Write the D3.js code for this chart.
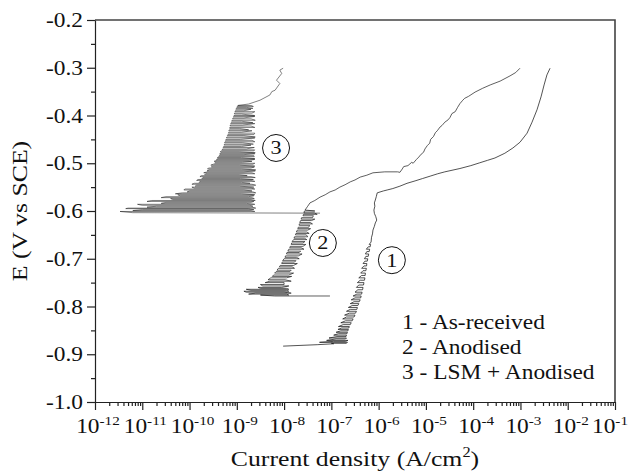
<!DOCTYPE html>
<html><head><meta charset="utf-8">
<script src="https://cdn.jsdelivr.net/npm/d3@7"></script>
<style>body{margin:0;background:#fff} svg{display:block}</style>
</head><body><svg id="c" width="629" height="474"></svg>
<script>
// ---------- data ----------
const xTickExps = [-12,-11,-10,-9,-8,-7,-6,-5,-4,-3,-2,-1];
const yTicks = [-0.2,-0.3,-0.4,-0.5,-0.6,-0.7,-0.8,-0.9,-1.0];
const yTickLabels = ["-0.2","-0.3","-0.4","-0.5","-0.6","-0.7","-0.8","-0.9","-1.0"];
const legendLines = ["1 - As-received","2 - Anodised","3 - LSM + Anodised"];
const markers = [["3",-8.17,-0.468],["2",-7.18,-0.667],["1",-5.72,-0.703]];

// curve 1 (As-received): [logI, E]
const c1Start = [[-8.02,-0.883],[-7.3,-0.880],[-6.95,-0.878]];
// noisy rows [E, logI low, logI high]
const c1Rows = [
[-0.877,-7.0,-6.68],[-0.875,-7.25,-6.66],[-0.873,-6.95,-6.70],[-0.871,-7.1,-6.65],
[-0.868,-6.9,-6.70],[-0.866,-7.05,-6.68],[-0.863,-6.88,-6.69],[-0.860,-6.95,-6.68],
[-0.857,-6.85,-6.67],[-0.854,-6.9,-6.66],[-0.851,-6.8,-6.65],[-0.848,-6.86,-6.64],
[-0.845,-6.78,-6.63],[-0.842,-6.85,-6.62],[-0.838,-6.75,-6.60],
[-0.834,-6.8,-6.58],[-0.830,-6.7,-6.56],[-0.826,-6.76,-6.54],[-0.822,-6.68,-6.52],
[-0.818,-6.72,-6.50],[-0.814,-6.62,-6.49],[-0.810,-6.68,-6.47],[-0.806,-6.6,-6.46],
[-0.802,-6.64,-6.45],[-0.798,-6.56,-6.44],[-0.794,-6.6,-6.42],[-0.790,-6.52,-6.41],
[-0.786,-6.58,-6.39],[-0.782,-6.5,-6.38],[-0.778,-6.54,-6.37],[-0.774,-6.46,-6.36],
[-0.770,-6.5,-6.35],[-0.765,-6.44,-6.34],[-0.760,-6.47,-6.33],[-0.755,-6.42,-6.32],
[-0.750,-6.45,-6.31],[-0.745,-6.39,-6.30],[-0.740,-6.42,-6.29],[-0.735,-6.36,-6.285],
[-0.730,-6.38,-6.28],[-0.725,-6.33,-6.27],[-0.720,-6.36,-6.26],[-0.715,-6.31,-6.255],
[-0.710,-6.33,-6.25],[-0.705,-6.29,-6.24],[-0.700,-6.3,-6.23],[-0.695,-6.27,-6.22],
[-0.690,-6.28,-6.21],[-0.685,-6.25,-6.20],[-0.680,-6.26,-6.19],[-0.675,-6.22,-6.18],
[-0.670,-6.2,-6.17]
];
const c1Top = [[-6.16,-0.665],[-6.15,-0.655],[-6.13,-0.648],[-6.12,-0.640],[-6.09,-0.632],
[-6.07,-0.625],[-6.04,-0.619],[-6.06,-0.612],[-6.09,-0.605],[-6.10,-0.598],[-6.08,-0.590],
[-6.09,-0.583],[-6.07,-0.577],[-6.05,-0.570],[-6.03,-0.562],[-5.90,-0.558],[-5.82,-0.556],
[-5.70,-0.553],[-5.55,-0.548],[-5.40,-0.542],[-5.23,-0.537],[-5.07,-0.532],[-4.91,-0.527],
[-4.75,-0.522],[-4.60,-0.518],[-4.28,-0.511],[-4.05,-0.505],[-3.86,-0.499],[-3.70,-0.494],
[-3.54,-0.489],[-3.33,-0.479],[-3.16,-0.468],[-3.01,-0.456],[-2.86,-0.437],[-2.755,-0.414],
[-2.65,-0.388],[-2.565,-0.361],[-2.50,-0.336],[-2.44,-0.315],[-2.374,-0.301]];

// curve 2 (Anodised)
const c2Start = [[-7.03,-0.778],[-8.2,-0.778]];
const c2Rows = [
[-0.776,-8.5,-7.9],[-0.774,-8.75,-7.95],[-0.772,-8.6,-7.85],[-0.770,-8.8,-8.0],
[-0.768,-8.85,-7.9],[-0.766,-8.7,-7.95],[-0.764,-8.8,-7.9],[-0.762,-8.5,-7.95],
[-0.760,-8.55,-8.05],[-0.757,-8.45,-7.9],[-0.754,-8.5,-8.0],
[-0.750,-8.4,-8.0],[-0.747,-8.3,-7.85],[-0.744,-8.34,-7.98],[-0.740,-8.28,-7.95],[-0.737,-8.25,-7.84],[-0.734,-8.22,-7.9],
[-0.730,-8.2,-7.8],[-0.727,-8.17,-7.88],[-0.724,-8.15,-7.85],[-0.720,-8.12,-7.78],[-0.717,-8.1,-7.83],[-0.714,-8.08,-7.8],
[-0.710,-8.05,-7.72],[-0.707,-8.04,-7.78],[-0.704,-8.03,-7.75],[-0.700,-8.0,-7.68],[-0.697,-7.98,-7.74],[-0.694,-7.97,-7.7],
[-0.690,-7.95,-7.62],[-0.687,-7.94,-7.68],[-0.684,-7.92,-7.65],[-0.680,-7.9,-7.58],[-0.677,-7.88,-7.64],[-0.674,-7.87,-7.6],
[-0.670,-7.85,-7.54],[-0.667,-7.84,-7.6],[-0.664,-7.83,-7.56],[-0.660,-7.8,-7.52],[-0.657,-7.79,-7.57],[-0.654,-7.78,-7.5],
[-0.650,-7.76,-7.53],[-0.647,-7.75,-7.47],[-0.644,-7.74,-7.52],[-0.640,-7.72,-7.5],[-0.637,-7.71,-7.44],[-0.634,-7.7,-7.48],
[-0.630,-7.68,-7.46],[-0.627,-7.68,-7.4],[-0.624,-7.67,-7.45],[-0.620,-7.65,-7.42],[-0.617,-7.64,-7.35],[-0.614,-7.63,-7.4],
[-0.610,-7.6,-7.38],[-0.607,-7.59,-7.3],[-0.604,-7.58,-7.36],[-0.600,-7.57,-7.35]
];
const c2Top = [[-7.557,-0.598],[-7.50,-0.590],[-7.452,-0.583],[-7.35,-0.578],[-7.24,-0.571],
[-7.13,-0.566],[-7.03,-0.560],[-6.92,-0.556],[-6.82,-0.550],[-6.71,-0.545],[-6.60,-0.539],
[-6.50,-0.535],[-6.39,-0.529],[-6.25,-0.525],[-6.12,-0.520],[-5.87,-0.518],[-5.60,-0.518],
[-5.55,-0.519],[-5.50,-0.512],[-5.47,-0.507],[-5.38,-0.505],[-5.30,-0.498],[-5.27,-0.500],
[-5.20,-0.492],[-5.15,-0.487],[-5.10,-0.481],[-5.05,-0.477],[-5.02,-0.470],[-4.97,-0.463],
[-4.92,-0.458],[-4.90,-0.450],[-4.84,-0.444],[-4.80,-0.436],[-4.76,-0.432],[-4.70,-0.424],
[-4.66,-0.421],[-4.60,-0.414],[-4.53,-0.409],[-4.49,-0.404],[-4.45,-0.396],[-4.38,-0.392],
[-4.33,-0.383],[-4.28,-0.375],[-4.22,-0.368],[-4.18,-0.364],[-4.10,-0.360],[-3.96,-0.351],
[-3.80,-0.343],[-3.64,-0.336],[-3.43,-0.328],[-3.22,-0.317],[-3.10,-0.310],[-3.01,-0.301]];

// curve 3 (LSM + Anodised)
const c3Start = [[-7.24,-0.6045],[-11.2,-0.6035]];
const c3Rows = [
[-0.601,-11.47,-8.62],[-0.599,-11.2,-8.70],[-0.597,-11.0,-8.64],[-0.595,-11.35,-8.75],[-0.594,-11.3,-8.60],[-0.592,-10.9,-8.68],
[-0.590,-10.7,-8.66],[-0.588,-11.0,-8.72],[-0.586,-11.1,-8.62],[-0.584,-10.6,-8.8],[-0.582,-10.5,-8.70],[-0.580,-10.9,-8.64],
[-0.578,-10.8,-8.61],[-0.576,-10.35,-8.7],[-0.574,-10.4,-8.63],[-0.572,-10.6,-8.68],
[-0.570,-10.5,-8.75],[-0.568,-10.2,-8.64],[-0.566,-10.25,-8.62],[-0.564,-10.3,-8.9],[-0.562,-10.15,-8.60],[-0.560,-10.05,-8.66],
[-0.558,-10.0,-8.68],[-0.556,-10.12,-8.85],[-0.554,-10.1,-8.62],[-0.552,-9.9,-8.7],
[-0.550,-9.95,-8.64],[-0.548,-9.88,-8.95],[-0.546,-9.85,-8.60],[-0.544,-9.95,-8.68],[-0.542,-9.9,-8.72],[-0.540,-9.8,-8.9],
[-0.538,-9.78,-8.62],[-0.536,-9.85,-8.7],[-0.534,-9.82,-8.65],[-0.532,-9.74,-8.92],[-0.530,-9.72,-8.61],[-0.528,-9.78,-8.7],
[-0.526,-9.75,-8.78],[-0.524,-9.68,-8.95],
[-0.522,-9.66,-8.62],[-0.520,-9.7,-8.68],[-0.518,-9.62,-8.85],[-0.516,-9.63,-8.61],[-0.514,-9.58,-8.60],[-0.512,-9.62,-8.9],
[-0.510,-9.6,-8.70],[-0.508,-9.54,-8.63],
[-0.506,-9.52,-8.62],[-0.504,-9.55,-8.95],[-0.502,-9.5,-8.66],[-0.500,-9.47,-8.62],[-0.498,-9.45,-8.88],[-0.496,-9.48,-8.68],
[-0.494,-9.42,-8.74],[-0.492,-9.43,-8.62],
[-0.490,-9.4,-8.62],[-0.488,-9.41,-8.9],[-0.486,-9.38,-8.63],[-0.484,-9.37,-8.64],[-0.482,-9.36,-8.85],[-0.480,-9.36,-8.62],
[-0.478,-9.34,-8.61],[-0.476,-9.35,-8.95],
[-0.474,-9.33,-8.64],[-0.472,-9.31,-8.62],[-0.470,-9.3,-8.80],[-0.467,-9.29,-8.63],[-0.465,-9.28,-8.9],[-0.462,-9.27,-8.7],
[-0.460,-9.26,-8.65],[-0.457,-9.26,-8.88],[-0.455,-9.25,-8.62],[-0.452,-9.24,-8.68],[-0.450,-9.23,-8.92],[-0.447,-9.22,-8.62],
[-0.445,-9.21,-8.61],[-0.442,-9.2,-8.85],[-0.440,-9.19,-8.64],[-0.437,-9.18,-8.62],[-0.435,-9.17,-8.9],[-0.432,-9.17,-8.68],
[-0.430,-9.16,-8.75],[-0.427,-9.15,-8.95],[-0.425,-9.15,-8.62],[-0.422,-9.14,-8.7],[-0.420,-9.14,-8.88],[-0.417,-9.13,-8.62],
[-0.415,-9.12,-8.66],[-0.412,-9.11,-8.9],[-0.410,-9.1,-8.61],[-0.407,-9.09,-8.7],[-0.405,-9.08,-8.85],[-0.402,-9.07,-8.62],
[-0.400,-9.06,-8.62],[-0.397,-9.05,-8.9],[-0.395,-9.05,-8.68],[-0.392,-9.04,-8.62],[-0.390,-9.03,-8.85],[-0.387,-9.02,-8.7],
[-0.385,-9.01,-8.66],[-0.383,-9.0,-8.8],[-0.381,-8.99,-8.65],[-0.379,-8.98,-8.7]
];
const c3Top = [[-8.75,-0.376],[-8.51,-0.368],[-8.30,-0.357],[-8.26,-0.350],[-8.19,-0.347],
[-8.09,-0.333],[-8.16,-0.326],[-8.05,-0.312],[-8.09,-0.305],[-8.02,-0.301]];

// ---------- drawing ----------
const FONT = "'Liberation Serif','Times New Roman',serif";
const SX = 1.17;
const svg = d3.select("#c");
const x = d3.scaleLog().domain([1e-12, 1e-1]).range([95, 615]);
const y = d3.scaleLinear().domain([-1.0, -0.2]).range([402, 20]);

function expandRows(rows){
  const pts = [];
  rows.forEach((r,i) => {
    if (i % 2 === 0) { pts.push([r[1], r[0]]); pts.push([r[2], r[0]]); }
    else { pts.push([r[2], r[0]]); pts.push([r[1], r[0]]); }
  });
  return pts;
}
const curves = [
  {pts: c1Start.concat(expandRows(c1Rows), c1Top), w: 0.75},
  {pts: c2Start.concat(expandRows(c2Rows), c2Top), w: 0.7},
  {pts: c3Start.concat(expandRows(c3Rows), c3Top), w: 0.55}
];
const line = d3.line().x(d => x(Math.pow(10, d[0]))).y(d => y(d[1]));
svg.append("g").selectAll("path").data(curves).join("path")
  .attr("d", d => line(d.pts)).attr("fill","none").attr("stroke","#1a1a1a")
  .attr("stroke-width", d => d.w).attr("stroke-linejoin","miter");

// frame top/right
svg.append("path").attr("d", `M95,20H615V402`).attr("fill","none")
  .attr("stroke","#444").attr("stroke-width",1.6);

// y axis
const yMinor = yTicks.slice(0,-1).map(v => v - 0.05);
svg.append("g").attr("transform","translate(95,0)")
  .call(d3.axisLeft(y).tickValues(yMinor).tickSize(4).tickSizeOuter(0).tickFormat(""))
  .call(g => g.select(".domain").remove());
svg.append("g").attr("transform","translate(95,0)")
  .call(d3.axisLeft(y).tickValues(yTicks).tickSize(8).tickSizeOuter(0).tickFormat(""));
// x axis
const xMinor = [];
xTickExps.slice(0,-1).forEach(e => { for (let j=2;j<=9;j++) xMinor.push(j*Math.pow(10,e)); });
svg.append("g").attr("transform","translate(0,402)")
  .call(d3.axisBottom(x).tickValues(xMinor).tickSize(4).tickSizeOuter(0).tickFormat(""))
  .call(g => g.select(".domain").remove());
svg.append("g").attr("transform","translate(0,402)")
  .call(d3.axisBottom(x).tickValues(xTickExps.map(e => Math.pow(10,e))).tickSize(8).tickSizeOuter(0).tickFormat(""));
svg.selectAll(".tick line, .domain").attr("stroke","#222").attr("stroke-width",1.2);

function label(px, py, parts, size, anchor, rot){
  const t = svg.append("g").attr("transform", `translate(${px},${py}) rotate(${rot||0}) scale(${SX},1)`)
    .append("text").attr("text-anchor", anchor).attr("font-family", FONT)
    .attr("font-size", size).attr("fill", "#111");
  parts.forEach(p => {
    const ts = t.append("tspan").text(p.t);
    if (p.fs) ts.attr("font-size", p.fs);
    if (p.dy) ts.attr("dy", p.dy);
  });
  return t;
}
// y tick labels
yTicks.forEach((v,i) => label(83, y(v)+7, [{t:yTickLabels[i]}], 20, "end"));
// x tick labels
xTickExps.forEach((e,i) => {
  const last = i === xTickExps.length - 1;
  label(last ? 628 : x(Math.pow(10,e))+3, 433, [{t:"10"},{t:String(e), fs:13, dy:-8}], 20, last ? "end" : "middle");
});
// axis titles
label(355, 466, [{t:"Current density (A/cm"},{t:"2", fs:14, dy:-9},{t:")", dy:9}], 22, "middle");
label(27, 211, [{t:"E (V vs SCE)"}], 22, "middle", -90);

// circled markers
markers.forEach(m => {
  const cx = x(Math.pow(10, m[1])), cy = y(m[2]);
  svg.append("circle").attr("cx",cx).attr("cy",cy).attr("r",13.5)
    .attr("fill","none").attr("stroke","#111").attr("stroke-width",1);
  label(cx, cy+6.5, [{t:m[0]}], 19, "middle");
});
// legend
legendLines.forEach((s,i) => label(402, 329 + i*25, [{t:s}], 20, "start"));
</script></body></html>
